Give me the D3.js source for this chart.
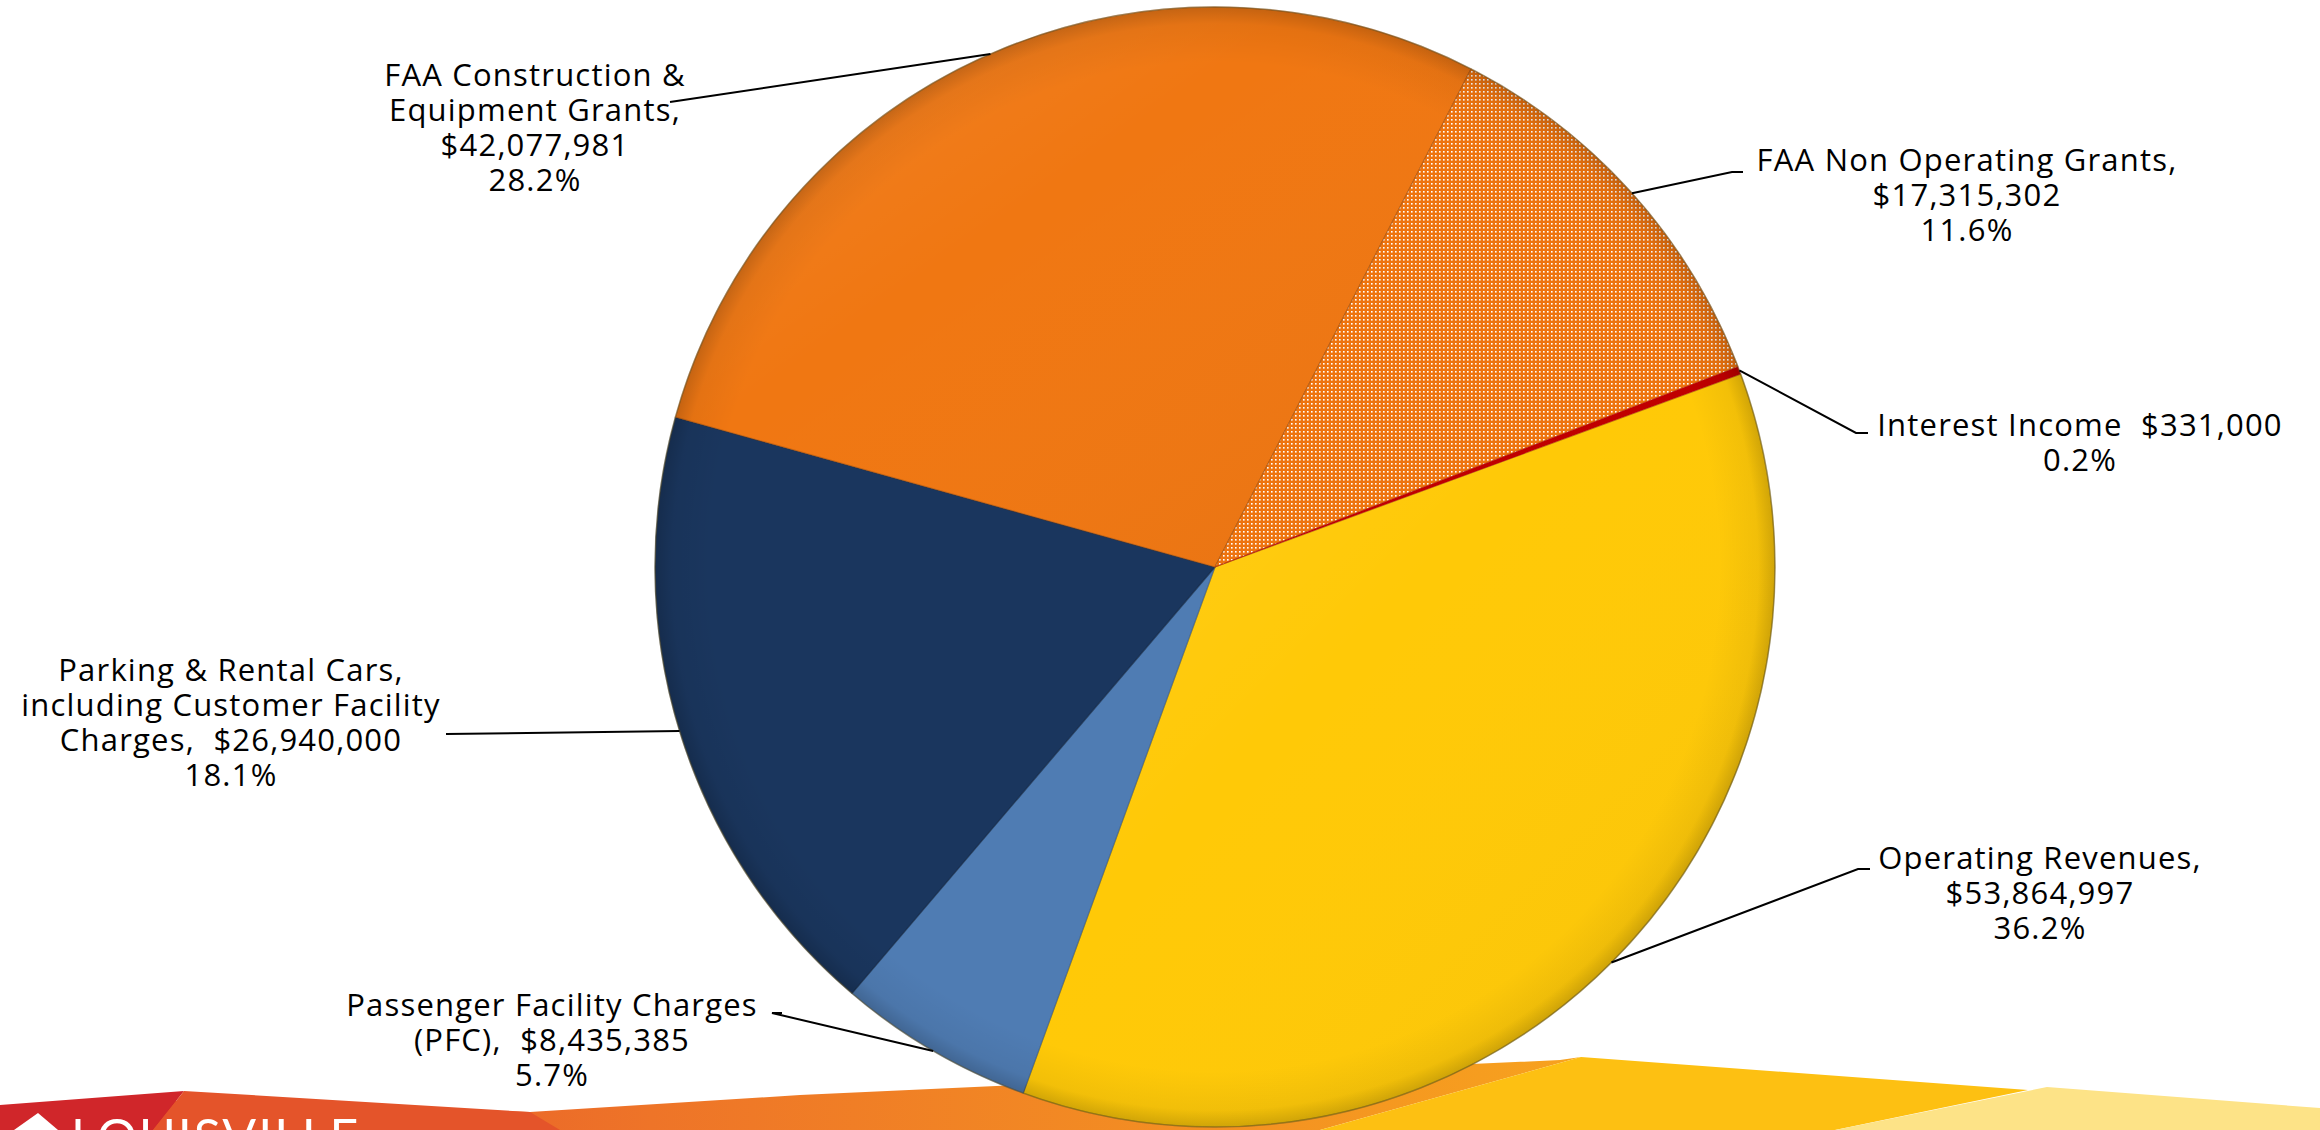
<!DOCTYPE html>
<html lang="en">
<head>
<meta charset="UTF-8">
<title>Airport Revenue Sources</title>
<script src="https://d3js.org/d3.v7.min.js"></script>
<style>
  body { margin: 0; overflow: hidden; background: white; }
  svg { display: block; }
  .lbl { font-family: "Open Sans", "Noto Sans", sans-serif; font-size: 31px; letter-spacing: 1.2px; fill: #000; white-space: pre; }
</style>
</head>
<body>
<svg id="chart"></svg>
<script>
// data
const categories = ["Operating Revenues", "Passenger Facility Charges (PFC)",
  "Parking & Rental Cars, including Customer Facility Charges",
  "FAA Construction & Equipment Grants", "FAA Non Operating Grants", "Interest Income"];
const amounts = [53864997, 8435385, 26940000, 42077981, 17315302, 331000];
// label text, {amt} and {pct} filled in from the data
const labelLines = [
  ["Operating Revenues,", "{amt}", "{pct}"],
  ["Passenger Facility Charges", "(PFC),  {amt}", "{pct}"],
  ["Parking & Rental Cars,", "including Customer Facility", "Charges,  {amt}", "{pct}"],
  ["FAA Construction &", "Equipment Grants,", "{amt}", "{pct}"],
  ["FAA Non Operating Grants,", "{amt}", "{pct}"],
  ["Interest Income  {amt}", "{pct}"]
];
const colors = ["#FFC907", "#4F7CB3", "#1A365E", "#F07712", "url(#dots)", "#C00000"];
const rimColors = ["#9a7a00", "#2f4f7a", "#0e1f38", "#a04c08", "#a04c08", "#C00000"];
const shined = [true, false, false, true, false, false];

// layout of the labels (text centre, first baseline, leader elbow points)
const labelPos = [
  { x: 2040, y: 869, elbow: [[1870, 869], [1858, 869]] },
  { x: 552, y: 1016, elbow: [[782, 1013], [772, 1013]] },
  { x: 231, y: 681, elbow: [[446, 734]] },
  { x: 535, y: 86, elbow: [[670, 102]] },
  { x: 1967, y: 171, elbow: [[1743, 172], [1732, 172]] },
  { x: 2080, y: 436, elbow: [[1868, 433], [1856, 433]] }
];

const width = 2320, height = 1130;
const cx = 1215, cy = 567, r = 560;
const startAngle = 69.85 * Math.PI / 180;

const svg = d3.select("#chart").attr("width", width).attr("height", height);
const defs = svg.append("defs");

// dotted pattern for the FAA Non Operating slice
const pat = defs.append("pattern").attr("id", "dots")
  .attr("width", 4).attr("height", 4).attr("patternUnits", "userSpaceOnUse");
pat.append("rect").attr("width", 4).attr("height", 4).attr("fill", "#EE740F");
pat.append("rect").attr("width", 1.6).attr("height", 1.6).attr("fill", "#ffffff");

// shading overlays
const rg = defs.append("radialGradient").attr("id", "rim")
  .attr("gradientUnits", "userSpaceOnUse").attr("cx", cx).attr("cy", cy).attr("r", r);
rg.append("stop").attr("offset", "0%").attr("stop-color", "#000").attr("stop-opacity", 0);
rg.append("stop").attr("offset", "90%").attr("stop-color", "#000").attr("stop-opacity", 0);
rg.append("stop").attr("offset", "97%").attr("stop-color", "#000").attr("stop-opacity", 0.05);
rg.append("stop").attr("offset", "100%").attr("stop-color", "#000").attr("stop-opacity", 0.18);

const lg = defs.append("linearGradient").attr("id", "shine")
  .attr("x1", "0%").attr("y1", "0%").attr("x2", "100%").attr("y2", "100%");
lg.append("stop").attr("offset", "0%").attr("stop-color", "#fff").attr("stop-opacity", 0.1);
lg.append("stop").attr("offset", "40%").attr("stop-color", "#fff").attr("stop-opacity", 0);
lg.append("stop").attr("offset", "100%").attr("stop-color", "#000").attr("stop-opacity", 0.04);

const bandGrad = defs.append("linearGradient").attr("id", "band")
  .attr("x1", "0%").attr("y1", "0%").attr("x2", "100%").attr("y2", "0%");
bandGrad.append("stop").attr("offset", "0%").attr("stop-color", "#E4502A");
bandGrad.append("stop").attr("offset", "35%").attr("stop-color", "#EE7428");
bandGrad.append("stop").attr("offset", "100%").attr("stop-color", "#F7A21E");

// decorative footer band
const footer = svg.append("g");
const shapes = [
  { fill: "url(#band)", pts: [[150, 1100], [530, 1112], [800, 1095], [1560, 1060], [1581, 1057], [1320, 1130], [150, 1130]] },
  { fill: "#D0262A", pts: [[0, 1105], [184, 1091], [153, 1130], [0, 1130]] },
  { fill: "#E4542A", pts: [[184, 1091], [530, 1112], [560, 1130], [153, 1130]] },
  { fill: "#FDC012", pts: [[1581, 1057], [2028, 1090], [1835, 1130], [1320, 1130]] },
  { fill: "#FDE387", pts: [[2047, 1087], [2320, 1108], [2320, 1130], [1835, 1130]] }
];
footer.selectAll("polygon").data(shapes).join("polygon")
  .attr("points", d => d.pts.map(p => p.join(",")).join(" "))
  .attr("fill", d => d.fill);
footer.append("polygon").attr("points", "14,1130 38,1113 58,1130").attr("fill", "#fff");
footer.append("text").attr("x", 71).attr("y", 1155)
  .attr("font-family", "Lato, sans-serif").attr("font-size", 50)
  .attr("letter-spacing", 2).attr("fill", "#fff").text("LOUISVILLE");

// pie
const total = d3.sum(amounts);
const pie = d3.pie().sort(null).value(d => d)
  .startAngle(startAngle).endAngle(startAngle + 2 * Math.PI);
const arcs = pie(amounts);
const arc = d3.arc().innerRadius(0).outerRadius(r);

const g = svg.append("g").attr("transform", `translate(${cx},${cy})`);
g.selectAll("path.slice").data(arcs).join("path")
  .attr("class", "slice")
  .attr("d", arc)
  .attr("fill", (d, i) => colors[i])
  .attr("stroke", (d, i) => rimColors[i])
  .attr("stroke-opacity", 0.5)
  .attr("stroke-width", (d, i) => i === 5 ? 0.5 : 1.2);

// soft bevel on the lighter slices
g.selectAll("path.shade").data(arcs.filter((d, i) => shined[i])).join("path")
  .attr("class", "shade")
  .attr("d", arc)
  .attr("fill", "url(#shine)")
  .attr("pointer-events", "none");
svg.append("circle").attr("cx", cx).attr("cy", cy).attr("r", r)
  .attr("fill", "url(#rim)");
svg.append("circle").attr("cx", cx).attr("cy", cy).attr("r", r).attr("fill", "none")
  .attr("stroke", "#6b5a2a").attr("stroke-opacity", 0.45).attr("stroke-width", 1.5);

// labels and leader lines
const fmtAmt = d3.format("$,");
const fmtPct = d3.format(".1%");
const line = d3.line();

arcs.forEach((a, i) => {
  const mid = (a.startAngle + a.endAngle) / 2;
  const edge = [cx + r * Math.sin(mid), cy - r * Math.cos(mid)];
  const pos = labelPos[i];
  svg.append("path")
    .attr("d", line([...pos.elbow, edge]))
    .attr("fill", "none").attr("stroke", "#000").attr("stroke-width", 2);

  const t = svg.append("text").attr("class", "lbl").attr("text-anchor", "middle");
  labelLines[i].forEach((s, k) => {
    const txt = s.replace("{amt}", fmtAmt(amounts[i])).replace("{pct}", fmtPct(amounts[i] / total));
    t.append("tspan").attr("x", pos.x).attr("y", pos.y + k * 35).text(txt);
  });
});
</script>
</body>
</html>
